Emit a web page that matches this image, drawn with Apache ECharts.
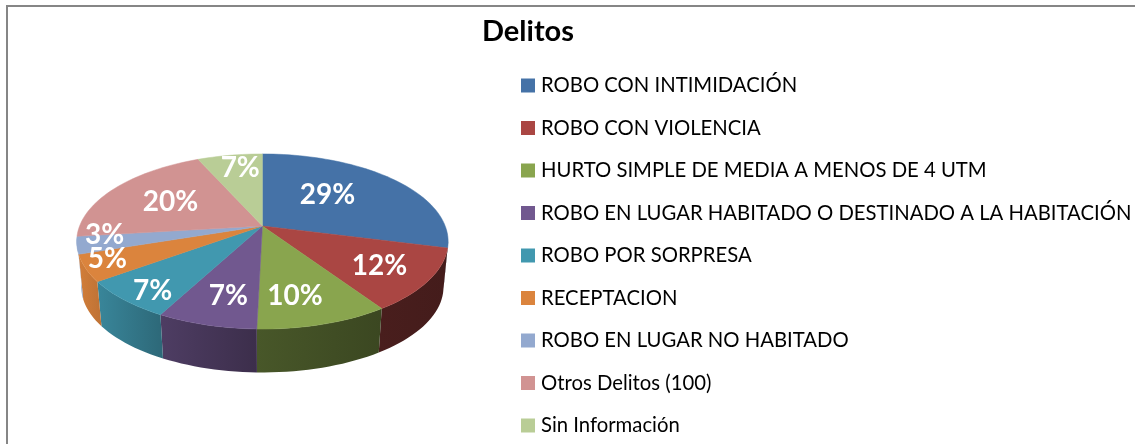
<!DOCTYPE html>
<html>
<head>
<meta charset="utf-8">
<style>
  html, body { margin: 0; padding: 0; background: #fff; }
  #chart { width: 1135px; height: 444px; }
</style>
<script src="https://cdn.jsdelivr.net/npm/echarts@6/dist/echarts.min.js"></script>
</head>
<body>
<div id="chart"></div>
<script>
  const categories = [
    "ROBO CON INTIMIDACIÓN",
    "ROBO CON VIOLENCIA",
    "HURTO SIMPLE DE MEDIA A MENOS DE 4 UTM",
    "ROBO EN LUGAR HABITADO O DESTINADO A LA HABITACIÓN",
    "ROBO POR SORPRESA",
    "RECEPTACION",
    "ROBO EN LUGAR NO HABITADO",
    "Otros Delitos (100)",
    "Sin Información",
  ];
  const shares = [29, 11.6, 9.8, 7.4, 7.2, 4.9, 3.2, 20.2, 6.7];
  const colors = ["#4572A7", "#AA4643", "#89A54E", "#71588F", "#4198AF", "#DB843D", "#93A9CF", "#D19392", "#B9CD96"];

  // label placement: fraction of radius and angle nudge from the slice middle
  const labelRadius = [0.546, 0.734, 0.737, 0.738, 0.858, 0.873, 0.854, 0.608, 0.79];
  const labelNudge = [-8, 1, 4, -2, -3, 2.5, 5.6, 0, 2];

  // tilted pie seen in perspective
  const pie = {
    cx: 262.4,
    cy: 226,
    rx: 182.8,
    ry: 84.8,
    persp: 0.177,
    floorY: 272,
    floorScale: 0.975,
  };

  const total = shares.reduce((a, b) => a + b, 0);
  const rad = (deg) => (deg * Math.PI) / 180;

  // angle is clockwise from 12 o'clock
  const project = (deg, r, floor) => {
    const u = r * Math.sin(rad(deg));
    const v = -r * Math.cos(rad(deg));
    const s = 1 / (1 - pie.persp * v);
    const k = floor ? pie.floorScale : 1;
    return [pie.cx + pie.rx * k * u * s, (floor ? pie.floorY : pie.cy) + pie.ry * k * v * s];
  };

  const arc = (from, to, floor) => {
    const pts = [];
    const n = Math.max(2, Math.ceil((to - from) / 2));
    for (let i = 0; i <= n; i++) {
      pts.push(project(from + ((to - from) * i) / n, 1, floor));
    }
    return pts;
  };

  // side wall gets darker towards the right
  const shade = (hex, x) => {
    const f = 0.36 + 0.6 * Math.exp(-(x - 78) / 140);
    const c = [1, 3, 5].map((i) => Math.round(parseInt(hex.substr(i, 2), 16) * Math.min(f, 1)));
    return "rgb(" + c.join(",") + ")";
  };

  const renderSlice = (index) => () => {
    const before = shares.slice(0, index).reduce((a, b) => a + b, 0);
    const start = (before / total) * 360;
    const end = ((before + shares[index]) / total) * 360;
    const children = [];

    const wallFrom = Math.max(start, 100);
    const wallTo = Math.min(end, 262);
    if (wallTo > wallFrom) {
      const top = arc(wallFrom, wallTo, false);
      const floor = arc(wallFrom, wallTo, true).reverse();
      const points = top.concat(floor);
      const xs = points.map((p) => p[0]);
      const x0 = Math.min(...xs);
      const x1 = Math.max(...xs);
      children.push({
        type: "polygon",
        z2: 1,
        shape: { points },
        style: {
          fill: {
            type: "linear",
            x: x0,
            y: 0,
            x2: x1,
            y2: 0,
            global: true,
            colorStops: [
              { offset: 0, color: shade(colors[index], x0) },
              { offset: 1, color: shade(colors[index], x1) },
            ],
          },
        },
      });
    }

    children.push({
      type: "polygon",
      z2: 2,
      shape: { points: [[pie.cx, pie.cy]].concat(arc(start, end, false)) },
      style: { fill: colors[index], stroke: colors[index], lineWidth: 0.5 },
    });

    const mid = (start + end) / 2 + labelNudge[index];
    const pos = project(mid, labelRadius[index], false);
    children.push({
      type: "text",
      z2: 3,
      x: pos[0],
      y: pos[1],
      style: {
        text: Math.round((shares[index] / total) * 100) + "%",
        fill: "#fff",
        font: "bold 28px Lato",
        align: "center",
        verticalAlign: "middle",
      },
    });

    return { type: "group", children };
  };

  const chart = echarts.init(document.getElementById("chart"), null, { renderer: "canvas" });

  chart.setOption({
    animation: false,
    backgroundColor: "#fff",
    title: {
      text: "Delitos",
      left: 482,
      top: 17,
      padding: 0,
      textStyle: { color: "#000", fontFamily: "Lato", fontWeight: "bold", fontSize: 29 },
    },
    legend: {
      orient: "vertical",
      left: 521,
      top: 75.5,
      padding: 0,
      icon: "rect",
      itemWidth: 14,
      itemHeight: 14,
      itemGap: 22.5,
      data: categories,
      textStyle: { color: "#000", fontFamily: "Lato", fontSize: 20.3, lineHeight: 20, padding: [0, 0, 0, 1] },
    },
    graphic: [
      {
        type: "polyline",
        shape: { points: [[7, 444], [7, 6], [1135, 6]] },
        style: { stroke: "#868686", lineWidth: 2, fill: null },
      },
    ],
    series: categories.map((name, i) => ({
      type: "custom",
      name,
      coordinateSystem: "none",
      itemStyle: { color: colors[i] },
      data: [shares[i]],
      renderItem: renderSlice(i),
    })),
  });
</script>
</body>
</html>
